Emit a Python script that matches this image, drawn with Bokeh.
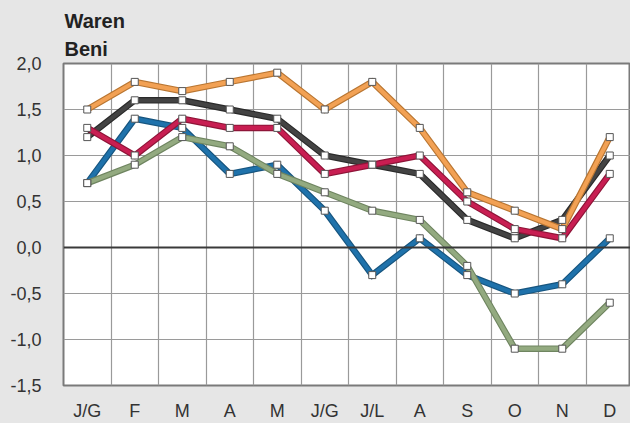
from bokeh.plotting import figure
from bokeh.models import Range1d, FixedTicker, Span, Title
from bokeh.embed import file_html
from bokeh.resources import INLINE

months = ["J/G", "F", "M", "A", "M", "J/G", "J/L", "A", "S", "O", "N", "D"]
y_ticks = [-1.5, -1.0, -0.5, 0.0, 0.5, 1.0, 1.5, 2.0]
y_tick_labels = ["-1,5", "-1,0", "-0,5", "0,0", "0,5", "1,0", "1,5", "2,0"]

black_vals = [1.2, 1.6, 1.6, 1.5, 1.4, 1.0, 0.9, 0.8, 0.3, 0.1, 0.3, 1.0]
blue_vals = [0.7, 1.4, 1.3, 0.8, 0.9, 0.4, -0.3, 0.1, -0.3, -0.5, -0.4, 0.1]
green_vals = [0.7, 0.9, 1.2, 1.1, 0.8, 0.6, 0.4, 0.3, -0.2, -1.1, -1.1, -0.6]
red_vals = [1.3, 1.0, 1.4, 1.3, 1.3, 0.8, 0.9, 1.0, 0.5, 0.2, 0.1, 0.8]
orange_vals = [1.5, 1.8, 1.7, 1.8, 1.9, 1.5, 1.8, 1.3, 0.6, 0.4, 0.2, 1.2]

series = [
    (black_vals, "#434343", "#2a2a2a"),
    (blue_vals, "#1f72ab", "#17557f"),
    (green_vals, "#93aa80", "#6f8560"),
    (red_vals, "#c81e52", "#8e1538"),
    (orange_vals, "#f2a154", "#b97632"),
]

x = list(range(len(months)))

W, H = 630, 423
L, T, B = 63, 63, 37
p = figure(width=W, height=H, output_backend="svg", toolbar_location=None,
           x_range=Range1d(-0.5, -0.5 + (W - L) / 47.5), y_range=Range1d(-1.5, 2.0),
           min_border_left=L, min_border_top=T, min_border_bottom=B, min_border_right=0)

p.background_fill_color = "white"
p.border_fill_color = "#e6e6e6"
p.outline_line_color = "#7a7a7a"
p.outline_line_width = 2

# grids
p.xgrid.ticker = FixedTicker(ticks=[i + 0.5 for i in range(-1, 12)])
p.ygrid.ticker = FixedTicker(ticks=y_ticks)
for g in (p.xgrid, p.ygrid):
    g.grid_line_color = "#9a9a9a"
    g.grid_line_width = 1.2
    g.grid_line_alpha = 1.0

# axes
p.xaxis.ticker = FixedTicker(ticks=x)
p.xaxis.major_label_overrides = {i: m for i, m in enumerate(months)}
p.yaxis.ticker = FixedTicker(ticks=y_ticks)
p.yaxis.major_label_overrides = {t: l for t, l in zip(y_ticks, y_tick_labels)}
for ax in (p.xaxis, p.yaxis):
    ax.axis_line_color = None
    ax.major_tick_line_color = None
    ax.minor_tick_line_color = None
    ax.major_tick_out = 0
    ax.major_tick_in = 0
    ax.minor_tick_out = 0
    ax.major_label_text_font = "Liberation Sans"
    ax.major_label_text_font_size = "18px"
    ax.major_label_text_color = "#333333"
p.xaxis.major_label_standoff = 15
p.yaxis.major_label_standoff = 22

zero = Span(location=0, dimension="width", line_color="#3a3a3a", line_width=2)
p.add_layout(zero)

for vals, col, edge in series:
    p.line(x, vals, line_color=edge, line_width=6.5, line_join="miter")
    p.line(x, vals, line_color=col, line_width=4.2, line_join="miter")
for vals, col, edge in series:
    p.scatter(x, vals, marker="square", size=7, fill_color="white",
              line_color="#555555", line_width=1)

for txt, so in [("Beni", 8), ("Waren", 0)]:
    p.add_layout(Title(text=txt, align="left", text_font="Liberation Sans",
                       text_font_style="bold", text_font_size="20px",
                       text_color="#222222", offset=1, standoff=so), "above")

html = file_html(p, INLINE)
html = html.replace("</head>", "<style>body{background:#e6e6e6;}</style></head>", 1)
open("out.html", "w").write(html)
